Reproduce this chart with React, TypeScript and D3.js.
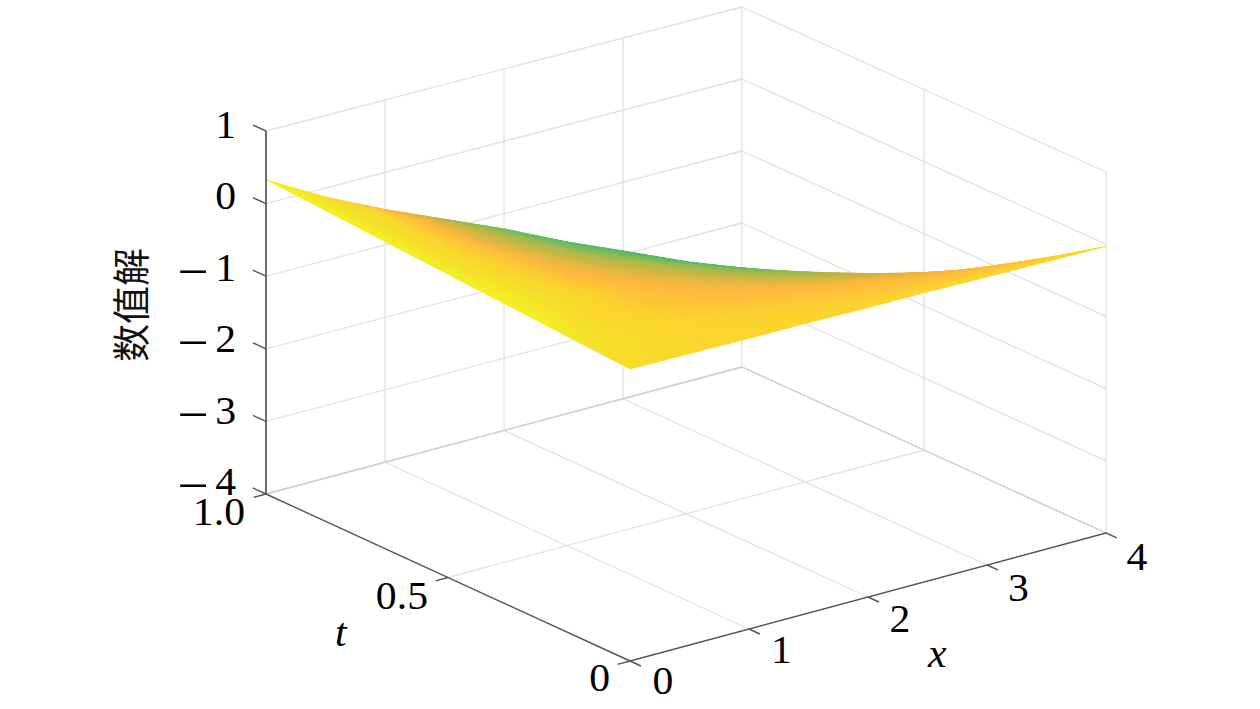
import * as d3 from "d3";
import React from "react";

const xTicks = [0, 1, 2, 3, 4];
const tTicks = [0, 0.5, 1];
const zTicks = [-4, -3, -2, -1, 0, 1];
const tLabels = ["0", "0.5", "1.0"];

// surface nodes
const xNodes = [0, 0.5, 1, 1.5, 2, 2.5, 3, 3.5, 4];
const tNodes = [0, 0.125, 0.25, 0.375, 0.5, 0.625, 0.75, 0.875, 1];

// one row per t, one column per x
const surfaceZ = [
  [0.01, 0.005, 0, 0, -0.01, -0.01, -0.02, -0.025, -0.03],
  [0.05, -0.01, -0.07, -0.13, -0.2, -0.26, -0.32, -0.38, -0.44],
  [0.09, -0.025, -0.14, -0.255, -0.37, -0.485, -0.6, -0.74, -0.83],
  [0.13, -0.04, -0.205, -0.37, -0.54, -0.71, -0.875, -1.07, -1.21],
  [0.17, -0.04, -0.26, -0.47, -0.69, -0.9, -1.115, -1.35, -1.545],
  [0.21, -0.05, -0.3, -0.56, -0.815, -1.07, -1.4, -1.63, -1.84],
  [0.25, -0.05, -0.34, -0.64, -0.97, -1.29, -1.62, -1.9, -2.12],
  [0.29, -0.04, -0.38, -0.71, -1.1, -1.45, -1.8, -2.14, -2.38],
  [0.33, -0.124, -0.51, -0.86, -1.21, -1.6, -1.95, -2.31, -2.63],
];

// position on the colour map at each node
const surfaceC = [
  [0.82, 0.76, 0.74, 0.72, 0.72, 0.72, 0.72, 0.72, 0.76],
  [0.88, 0.8, 0.72, 0.68, 0.64, 0.6, 0.58, 0.6, 0.66],
  [1, 0.76, 0.62, 0.56, 0.52, 0.5, 0.48, 0.5, 0.58],
  [1, 0.82, 0.6, 0.5, 0.45, 0.38, 0.36, 0.42, 0.55],
  [1, 0.75, 0.52, 0.43, 0.35, 0.26, 0.24, 0.33, 0.5],
  [1, 0.72, 0.5, 0.34, 0.27, 0.18, 0.24, 0.28, 0.42],
  [1, 0.72, 0.42, 0.28, 0.2, 0.16, 0.14, 0.18, 0.3],
  [1, 0.78, 0.45, 0.24, 0.14, 0.1, 0.08, 0.1, 0.2],
  [1, 0.8, 0.5, 0.25, 0.1, 0.06, 0.05, 0.05, 0.1],
];

const colorStops = [0, 0.2, 0.35, 0.5, 0.7, 0.85, 1];
const colorRange = ["#3fb971", "#8aba55", "#c8b63c", "#fdb63c", "#fcd22b", "#f6de26", "#f3f020"];

const WIDTH = 1260;
const HEIGHT = 709;
const SERIF = "'Liberation Serif', serif";
const SUBDIV = 6;
const WIDEN = 1.07;

// the three axes of the box, as screen offsets from the x=0 t=0 z=-4 corner
const xToSx = d3.scaleLinear().domain([0, 4]).range([630, 1106]);
const xToSy = d3.scaleLinear().domain([0, 4]).range([661, 533]);
const tToSx = d3.scaleLinear().domain([0, 1]).range([0, -364]);
const tToSy = d3.scaleLinear().domain([0, 1]).range([0, -167]);
const zToFrac = d3.scaleLinear().domain([-4, 1]).range([0, 1]);

const project = (x: number, t: number, z: number): [number, number] => {
  // the box is in slight perspective, so the far edges come out a bit shorter
  const span = 364 - (x / 4) * 3 - t;
  return [
    xToSx(x) + tToSx(t),
    xToSy(x) + tToSy(t) + (x / 4) * t - zToFrac(z) * span,
  ];
};

const colorOf = d3.scaleLinear<string>().domain(colorStops).range(colorRange);

const seg = (a: [number, number], b: [number, number]) => `M${a[0]},${a[1]}L${b[0]},${b[1]}`;

const gridPaths = () => {
  const out: string[] = [];
  // back wall t=1
  xTicks.slice(1).forEach((x) => out.push(seg(project(x, 1, -4), project(x, 1, 1))));
  zTicks.forEach((z) => out.push(seg(project(0, 1, z), project(4, 1, z))));
  // back wall x=4
  tTicks.slice(0, 2).forEach((t) => out.push(seg(project(4, t, -4), project(4, t, 1))));
  zTicks.forEach((z) => out.push(seg(project(4, 0, z), project(4, 1, z))));
  // floor
  xTicks.slice(1).forEach((x) => out.push(seg(project(x, 0, -4), project(x, 1, -4))));
  tTicks.slice(1).forEach((t) => out.push(seg(project(0, t, -4), project(4, t, -4))));
  return out;
};

const surfaceCells = () => {
  const cells: { d: string; fill: string }[] = [];
  for (let j = tNodes.length - 2; j >= 0; j--) {
    for (let i = 0; i < xNodes.length - 1; i++) {
      // interpolated shading inside one cell, like shading interp
      for (let b = SUBDIV - 1; b >= 0; b--) {
        for (let a = 0; a < SUBDIV; a++) {
          const at = (ua: number, ub: number) => {
            const mix = (g: number[][]) =>
              (g[j][i] * (1 - ua) + g[j][i + 1] * ua) * (1 - ub) +
              (g[j + 1][i] * (1 - ua) + g[j + 1][i + 1] * ua) * ub;
            const x = xNodes[i] + (xNodes[i + 1] - xNodes[i]) * ua;
            const t = tNodes[j] + (tNodes[j + 1] - tNodes[j]) * ub;
            return { p: project(x, t, mix(surfaceZ)), c: mix(surfaceC) };
          };
          const u0 = a / SUBDIV;
          const u1 = (a + 1) / SUBDIV;
          const v0 = b / SUBDIV;
          const v1 = (b + 1) / SUBDIV;
          const corners = [at(u0, v0), at(u1, v0), at(u1, v1), at(u0, v1)];
          const d = "M" + corners.map((q) => q.p.join(",")).join("L") + "Z";
          cells.push({ d, fill: colorOf(at((u0 + u1) / 2, (v0 + v1) / 2).c) });
        }
      }
    }
  }
  return cells;
};

// Computer Modern digits are wider than the installed serif, so stretch a bit
const Label: React.FC<{
  x: number;
  y: number;
  anchor?: string;
  italic?: boolean;
  children: React.ReactNode;
}> = ({ x, y, anchor = "start", italic = false, children }) => (
  <text
    transform={`translate(${x},${y}) scale(${WIDEN},1)`}
    textAnchor={anchor}
    fontStyle={italic ? "italic" : "normal"}
  >
    {children}
  </text>
);

const App: React.FC = () => {
  const cells = surfaceCells();
  const zLabelY = d3.scaleLinear().domain([-4, 1]).range([495, 138]);
  const xLabelX = d3.scaleLinear().domain([0, 4]).range([663, 1137]);
  const xLabelY = d3.scaleLinear().domain([0, 4]).range([694, 570]);

  return (
    <svg
      width={WIDTH}
      height={HEIGHT}
      style={{ position: "absolute", left: 0, top: 0, background: "#fff" }}
    >
      <defs>
        <filter id="soft" x="-5%" y="-5%" width="110%" height="110%">
          <feGaussianBlur stdDeviation="0.45" />
        </filter>
      </defs>

      <g fill="none" stroke="#e2e2e2" strokeWidth={1.3}>
        {gridPaths().map((d, i) => (
          <path key={i} d={d} />
        ))}
        <path d={seg(project(0, 1, -4), project(4, 1, -4))} stroke="#cfcfcf" />
        <path d={seg(project(4, 0, -4), project(4, 1, -4))} stroke="#cfcfcf" />
      </g>

      <g filter="url(#soft)">
        {cells.map((c, i) => (
          <path key={i} d={c.d} fill={c.fill} stroke={c.fill} strokeWidth={0.6} />
        ))}
      </g>

      <g fill="none" stroke="#555" strokeWidth={1.4}>
        <path d={seg(project(0, 1, -4), project(0, 1, 1))} stroke="#333" />
        <path d={seg(project(0, 0, -4), project(4, 0, -4))} />
        <path d={seg(project(0, 0, -4), project(0, 1, -4))} />
        {zTicks.map((z) => (
          <path key={z} d={seg(project(0, 1, z), project(0, 1.036, z))} />
        ))}
        {xTicks.map((x) => (
          <path key={x} d={seg(project(x, 0, -4), project(x, -0.03, -4))} />
        ))}
        {tTicks.map((t) => (
          <path key={t} d={seg(project(0, t, -4), project(-0.105, t, -4))} />
        ))}
      </g>

      <g fontFamily={SERIF} fontSize={39} fill="#000">
        {zTicks.map((z) => (
          <Label key={z} x={236} y={zLabelY(z)} anchor="end">
            {z < 0 && (
              <tspan fontSize={52} dy={8}>
                −
              </tspan>
            )}
            <tspan dx={z < 0 ? 6 : 0} dy={z < 0 ? -8 : 0}>
              {Math.abs(z)}
            </tspan>
          </Label>
        ))}
        {xTicks.map((x) => (
          <Label key={x} x={xLabelX(x)} y={xLabelY(x)} anchor="middle">
            {x}
          </Label>
        ))}
        <Label x={610} y={691} anchor="end">
          {tLabels[0]}
        </Label>
        <Label x={428} y={609} anchor="end">
          {tLabels[1]}
        </Label>
        <Label x={245} y={525} anchor="end">
          {tLabels[2]}
        </Label>
        <Label x={928} y={667} italic>
          x
        </Label>
        <Label x={335} y={646} italic>
          t
        </Label>
      </g>

      <text
        transform="translate(145,305) rotate(-90)"
        textAnchor="middle"
        fontFamily="'Noto Sans CJK SC', sans-serif"
        fontSize={38}
        fill="#111"
      >
        数值解
      </text>
    </svg>
  );
};

export default App;
